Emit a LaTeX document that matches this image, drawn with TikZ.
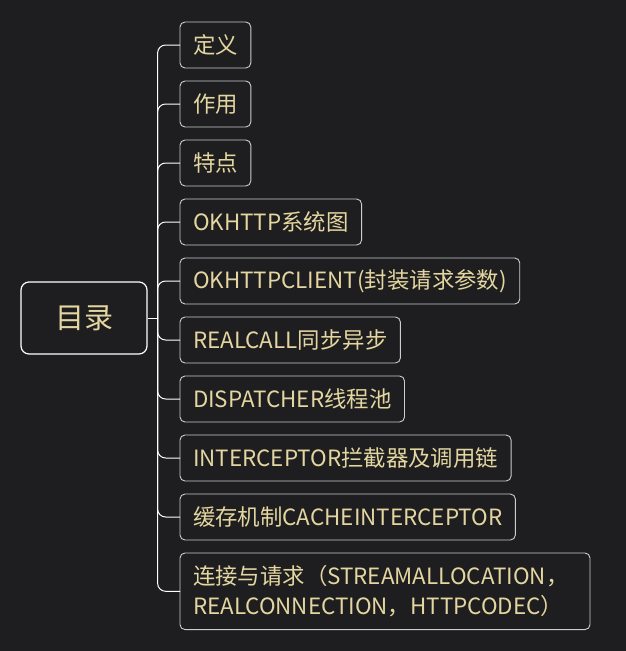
\documentclass[tikz,border=0pt]{standalone}
\usepackage{fontspec}
\setmainfont{Noto Sans CJK SC}
\usetikzlibrary{positioning}

\definecolor{bgcol}{RGB}{30,30,32}
\definecolor{txtcol}{RGB}{228,214,160}
\definecolor{edgecol}{RGB}{205,205,205}

\begin{document}
\begin{tikzpicture}[
    x=1pt, y=-1pt,
    node distance=13pt,
    rootbox/.style={draw=white, line width=1.2pt, rounded corners=8pt, minimum width=126pt, minimum height=72pt, text=txtcol, font=\fontsize{29}{34}\selectfont},
    box/.style={draw=edgecol, line width=0.9pt, outer sep=0pt, rounded corners=5pt, minimum height=46pt, inner xsep=13pt, text=txtcol, font=\fontsize{22.4}{30}\selectfont, align=left},
    link/.style={draw=white, line width=1pt, rounded corners=8pt}
]

\fill[bgcol] (0,0) rectangle (626,651);
\useasboundingbox (0,0) rectangle (626,651);

\node (root) [rootbox] at (84,318) {目录};

\node (def) [box, anchor=north west] at (180,22) {定义};
\node (use) [box, below=of def.south west, anchor=north west] {作用};
\node (feat) [box, below=of use.south west, anchor=north west] {特点};
\node (sys) [box, below=of feat.south west, anchor=north west] {OKHTTP系统图};
\node (client) [box, below=of sys.south west, anchor=north west] {OKHTTPCLIENT(封装请求参数)};
\node (call) [box, below=of client.south west, anchor=north west] {REALCALL同步异步};
\node (disp) [box, below=of call.south west, anchor=north west] {DISPATCHER线程池};
\node (icpt) [box, below=of disp.south west, anchor=north west] {INTERCEPTOR拦截器及调用链};
\node (cache) [box, below=of icpt.south west, anchor=north west] {缓存机制CACHEINTERCEPTOR};
\node (conn) [box, below=of cache.south west, anchor=north west, inner ysep=12.5pt, text width=384pt] {连接与请求（STREAMALLOCATION，\\REALCONNECTION，HTTPCODEC）};

% trunk from the root to every branch
\draw [link] (root.east) -- ++(10,0) coordinate (hub);
\foreach \c in {def,use,feat,sys,client,call,disp,icpt,cache,conn}
    \draw [link] (hub) |- (\c.west);

\end{tikzpicture}
\end{document}
